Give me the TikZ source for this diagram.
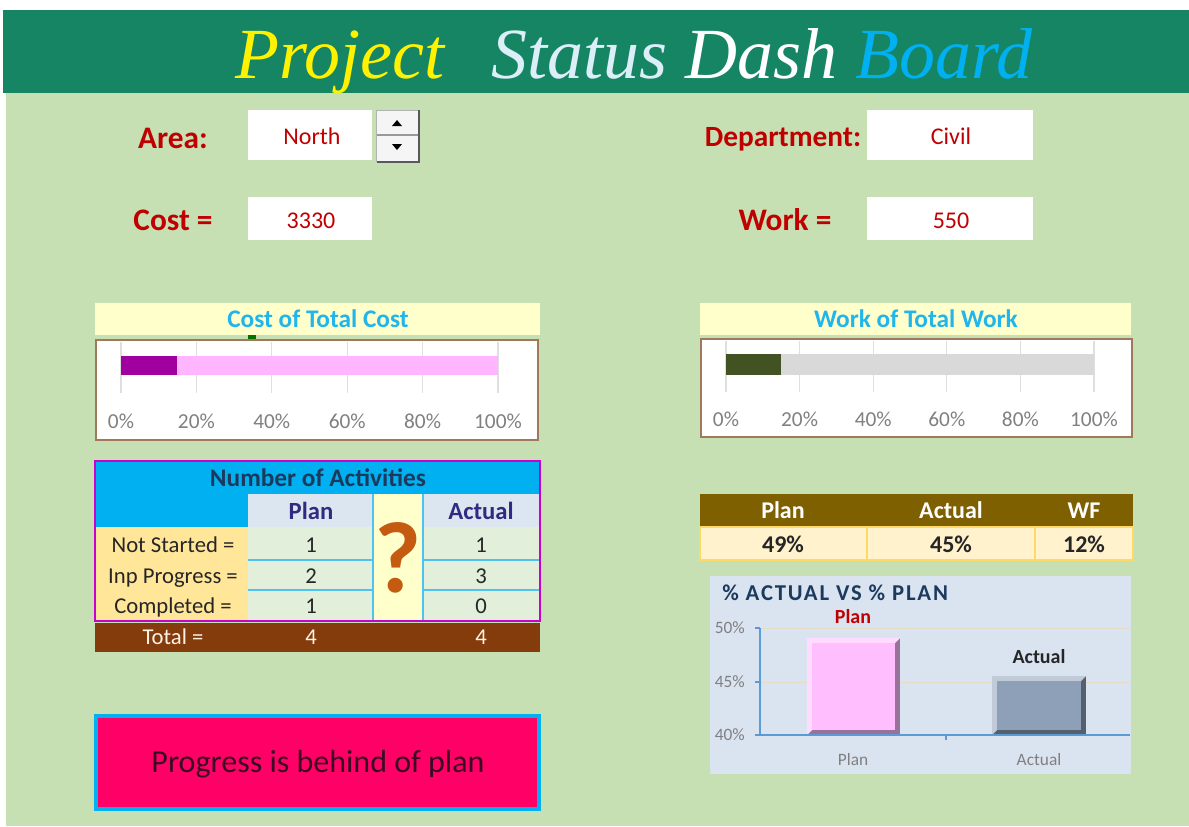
\documentclass[tikz,border=0pt]{standalone}
\usepackage{fontspec}
\setmainfont{Carlito}
\newfontfamily\titlefont{Liberation Serif}
\usepackage{tikz}

\definecolor{bandgreen}{HTML}{168564}
\definecolor{pagegreen}{HTML}{C6E0B4}
\definecolor{darkred}{HTML}{C00000}
\definecolor{skyblue}{HTML}{00B0F0}
\definecolor{headyellow}{HTML}{FFFFCC}
\definecolor{titlecyan}{HTML}{20B6EC}
\definecolor{statuswhite}{HTML}{DCEEF7}
\definecolor{framebrown}{HTML}{A0785A}
\definecolor{purplebar}{HTML}{A000A0}
\definecolor{pinkbar}{HTML}{FFB5FF}
\definecolor{olivebar}{HTML}{435223}
\definecolor{greybar}{HTML}{D9D9D9}
\definecolor{tickgrey}{HTML}{808080}
\definecolor{navytext}{HTML}{1C3A5E}
\definecolor{indigotext}{HTML}{302B80}
\definecolor{planhead}{HTML}{DCE6F1}
\definecolor{rowtan}{HTML}{FFE699}
\definecolor{cellgreen}{HTML}{E2EFDA}
\definecolor{cellline}{HTML}{4FC3EF}
\definecolor{tableframe}{HTML}{CC00CC}
\definecolor{totalbrown}{HTML}{843C0C}
\definecolor{qorange}{HTML}{C55A11}
\definecolor{olivehead}{HTML}{7F6000}
\definecolor{creamrow}{HTML}{FFF2CC}
\definecolor{goldline}{HTML}{FFD966}
\definecolor{chartpanel}{HTML}{DAE3F0}
\definecolor{axisblue}{HTML}{5B9BD5}
\definecolor{gridtan}{HTML}{E6DCC6}
\definecolor{barpink}{HTML}{FFBFFF}
\definecolor{barslate}{HTML}{8EA0B8}
\definecolor{alertpink}{HTML}{FF0066}
\definecolor{alerttext}{HTML}{3B0A22}

\newcommand{\fsz}[1]{\fontsize{#1}{#1}\selectfont}
% bevelled column: x1, y1, x2, y2, colour
\newcommand{\bevelbar}[5]{%
  \fill[#5!60!black] (#1,#2) rectangle (#3,#4);
  \fill[#5!55!white] (#1,#2) -- (#3,#2) -- ({#3-5},{#2+5}) -- ({#1+5},{#2+5}) -- ({#1+5},{#4-5}) -- (#1,#4) -- cycle;
  \fill[#5] ({#1+5},{#2+5}) rectangle ({#3-5},{#4-5});
}

\tikzset{
  fieldname/.style={anchor=base, inner sep=0pt, text=darkred, font=\fsz{22}\bfseries},
  fieldval/.style={anchor=base, inner sep=0pt, text=darkred, font=\fsz{18}},
  charthead/.style={anchor=base, inner sep=0pt, text=titlecyan, font=\fsz{19}\bfseries},
  tick/.style={anchor=base, inner sep=0pt, text=tickgrey, font=\fsz{16}},
  cell/.style={anchor=base, inner sep=0pt, text=black!85, font=\fsz{17}},
  colhead/.style={anchor=base, inner sep=0pt, text=indigotext, font=\fsz{18.5}\bfseries},
}

\begin{document}
\begin{tikzpicture}[x=0.75pt, y=-0.75pt]
	\useasboundingbox (0,0) rectangle (1189,826);
	\fill[white] (0,0) rectangle (1189,826);
	\fill[pagegreen] (6,93) rectangle (1189,826);
	\fill[bandgreen] (3,10) rectangle (1189,93);

	% title
	\node[anchor=base, inner sep=0pt] (title) at (634,78) {\titlefont\itshape\fsz{54}\textcolor{yellow}{Project}\hspace{0.4em} \textcolor{statuswhite}{Status} \textcolor{white}{Dash} \textcolor{skyblue}{Board}};

	% input fields
	\fill[white] (248,110) rectangle (372,160);
	\fill[white] (248,197) rectangle (372,240);
	\fill[white] (867,110) rectangle (1033,160);
	\fill[white] (867,197) rectangle (1033,240);
	\node[fieldname, font=\fsz{23.5}\bfseries] (area) at (173,148) {Area:};
	\node[fieldname, font=\fsz{23.5}\bfseries] (cost) at (173,230) {Cost =};
	\node[fieldname] (dept) at (783,146) {Department:};
	\node[fieldname, font=\fsz{23.5}\bfseries] (work) at (785,230) {Work =};
	\node[fieldval] (areaval) at (312,144) {North};
	\node[fieldval] (costval) at (311,228) {3330};
	\node[fieldval] (deptval) at (951,144) {Civil};
	\node[fieldval] (workval) at (951,228) {550};

	% spinner
	\draw[gray!60, fill=gray!8] (376,110) rectangle (418,161);
	\draw[black!65, line width=1.5pt] (419,110) -- (419,162) -- (377,162);
	\draw[gray!80, line width=1pt] (377,135) -- (418,135);
	\fill (392,126) -- (402,126) -- (397,120) -- cycle;
	\fill (392,144) -- (402,144) -- (397,150) -- cycle;

	% cost gauge
	\fill[headyellow] (95,303) rectangle (540,335);
	\node[charthead] (costhead) at (318,327) {Cost of Total Cost};
	\draw[framebrown, line width=1.2pt, fill=white] (96,340) rectangle (538,440);
	\fill[green!45!black] (248,335) rectangle (256,339);
	\foreach \p [count=\i from 0] in {0,20,40,60,80,100} {
		\draw[gray!25, line width=1pt] ({121+75.4*\i},342) -- ({121+75.4*\i},393);
		\node[tick] (ct\i) at ({121+75.4*\i},428) {\p\%};
	}
	\fill[pinkbar] (177,356) rectangle (498,375);
	\fill[purplebar] (121,356) rectangle (177,375);

	% work gauge
	\fill[headyellow] (700,303) rectangle (1131,335);
	\node[charthead] (workhead) at (916,327) {Work of Total Work};
	\draw[framebrown, line width=1.2pt, fill=white] (701,339) rectangle (1132,437);
	\foreach \p [count=\i from 0] in {0,20,40,60,80,100} {
		\draw[gray!25, line width=1pt] ({726+73.6*\i},341) -- ({726+73.6*\i},392);
		\node[tick] (wt\i) at ({726+73.6*\i},426) {\p\%};
	}
	\fill[greybar] (781,354) rectangle (1094,375);
	\fill[olivebar] (726,354) rectangle (781,375);

	% activities table
	\fill[skyblue] (95,461) rectangle (540,494);
	\fill[skyblue] (95,494) rectangle (248,527);
	\fill[planhead] (248,494) rectangle (373,527);
	\fill[planhead] (423,494) rectangle (540,527);
	\fill[headyellow] (373,494) rectangle (423,621);
	\fill[rowtan] (95,527) rectangle (248,621);
	\fill[cellgreen] (248,527) rectangle (373,621);
	\fill[cellgreen] (423,527) rectangle (540,621);
	\foreach \y in {560,590} {
		\draw[cellline, line width=1.2pt] (248,\y) -- (373,\y);
		\draw[cellline, line width=1.2pt] (423,\y) -- (540,\y);
	}
	\draw[cellline, line width=1.2pt] (373,494) -- (373,621);
	\draw[cellline, line width=1.2pt] (423,494) -- (423,621);
	\draw[tableframe, line width=2pt] (95,461) rectangle (540,621);
	\node[anchor=base, inner sep=0pt, text=navytext, font=\fsz{19}\bfseries] (acthead) at (318,486) {Number of Activities};
	\node[colhead] (planhd) at (311,519) {Plan};
	\node[colhead] (actualhd) at (481,519) {Actual};
	\node[cell] (nsl) at (173,552) {Not Started =};
	\node[cell] (ipl) at (173,583) {Inp Progress =};
	\node[cell] (cpl) at (173,613) {Completed =};
	\node[cell] (nsp) at (311,552) {1};
	\node[cell] (ipp) at (311,583) {2};
	\node[cell] (cpp) at (311,613) {1};
	\node[cell] (nsa) at (481,552) {1};
	\node[cell] (ipa) at (481,583) {3};
	\node[cell] (cpa) at (481,613) {0};
	\node[anchor=base, inner sep=0pt, text=qorange, font=\fsz{76}\bfseries] (query) at (398,592) {?};

	% totals
	\fill[totalbrown] (95,623) rectangle (540,652);
	\node[cell, text=white!90!orange] (totl) at (173,644) {Total =};
	\node[cell, text=white!90!orange] (totp) at (311,644) {4};
	\node[cell, text=white!90!orange] (tota) at (481,644) {4};

	% status message
	\draw[skyblue, line width=2.5pt, fill=alertpink] (96,716) rectangle (539,809);
	\node[anchor=base, inner sep=0pt, text=alerttext, font=\fsz{24}] (progress) at (318,772) {Progress is behind of plan};

	% plan / actual / wf
	\fill[olivehead] (700,494) rectangle (1133,527);
	\fill[creamrow] (700,527) rectangle (1133,560);
	\draw[goldline, line width=1pt] (700,527) rectangle (1133,560);
	\draw[goldline, line width=1pt] (867,527) -- (867,560);
	\draw[goldline, line width=1pt] (1035,527) -- (1035,560);
	\node[anchor=base, inner sep=0pt, text=white, font=\fsz{18}\bfseries] (ph) at (783,518) {Plan};
	\node[anchor=base, inner sep=0pt, text=white, font=\fsz{18}\bfseries] (ah) at (951,518) {Actual};
	\node[anchor=base, inner sep=0pt, text=white, font=\fsz{18}\bfseries] (wh) at (1084,518) {WF};
	\node[anchor=base, inner sep=0pt, text=black!85, font=\fsz{18}\bfseries] (pv) at (783,552) {49\%};
	\node[anchor=base, inner sep=0pt, text=black!85, font=\fsz{18}\bfseries] (av) at (951,552) {45\%};
	\node[anchor=base, inner sep=0pt, text=black!85, font=\fsz{18}\bfseries] (wv) at (1084,552) {12\%};

	% column chart
	\fill[chartpanel] (710,576) rectangle (1131,774);
	\node[anchor=base west, inner sep=0pt, text=navytext, font=\fsz{17}\bfseries\addfontfeature{LetterSpace=8}] (charttitle) at (722,600) {\%~ACTUAL VS \%~PLAN};
	\draw[gridtan] (760,628) -- (1130,628);
	\draw[gridtan] (760,682) -- (1130,682);
	\bevelbar{807}{638}{900}{735}{barpink}
	\bevelbar{992}{676}{1086}{735}{barslate}
	\draw[axisblue, line width=1pt] (760,628) -- (760,735) -- (1130,735);
	\foreach \y in {628,682,735}
		\draw[axisblue, line width=1pt] (755,\y) -- (760,\y);
	\draw[axisblue, line width=1pt] (946,735) -- (946,740);
	\node[anchor=east, inner sep=0pt, text=tickgrey, font=\fsz{13}] (y50) at (745,628) {50\%};
	\node[anchor=east, inner sep=0pt, text=tickgrey, font=\fsz{13}] (y45) at (745,682) {45\%};
	\node[anchor=east, inner sep=0pt, text=tickgrey, font=\fsz{13}] (y40) at (745,735) {40\%};
	\node[anchor=base, inner sep=0pt, text=darkred, font=\fsz{15}\bfseries] (planlbl) at (853,623) {Plan};
	\node[anchor=base, inner sep=0pt, text=black!85, font=\fsz{15}\bfseries] (actlbl) at (1039,663) {Actual};
	\node[anchor=base, inner sep=0pt, text=tickgrey, font=\fsz{13}] (plancat) at (853,765) {Plan};
	\node[anchor=base, inner sep=0pt, text=tickgrey, font=\fsz{13}] (actcat) at (1039,765) {Actual};

\end{tikzpicture}
\end{document}
